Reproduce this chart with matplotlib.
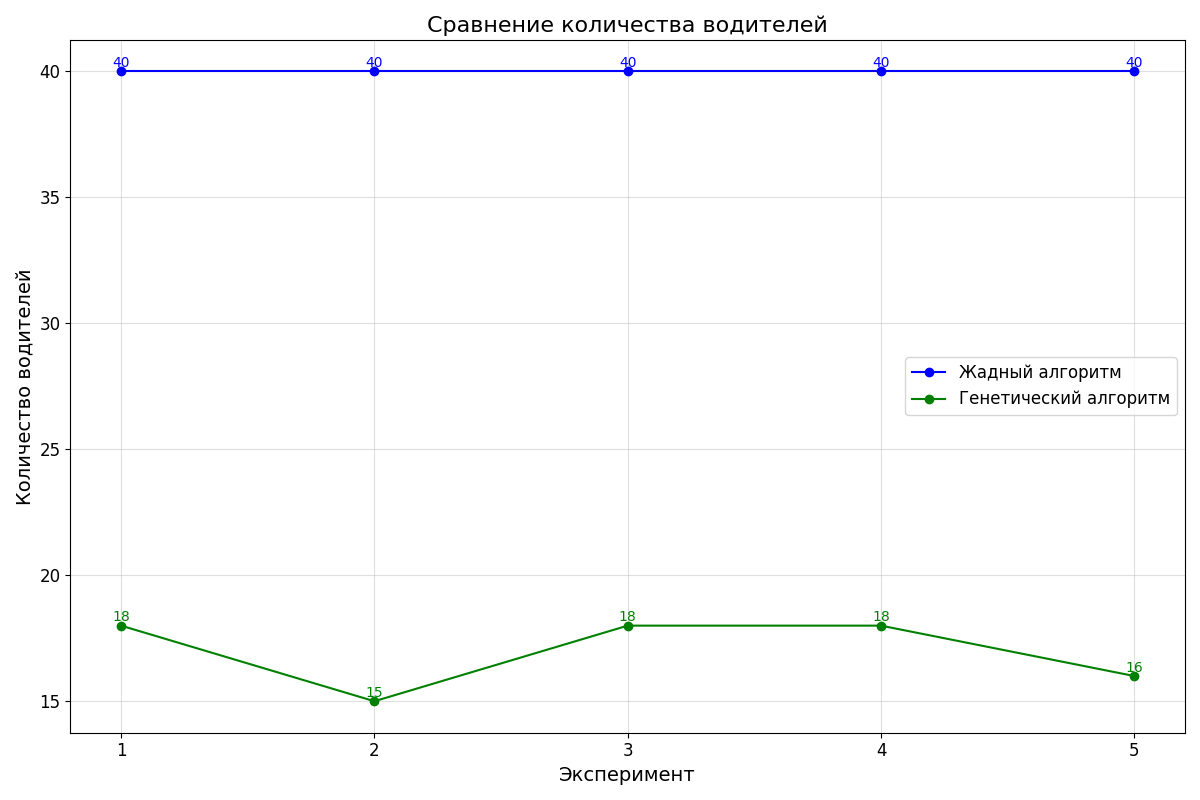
import matplotlib
matplotlib.use("Agg")
import matplotlib.pyplot as plt

experiments = [1, 2, 3, 4, 5]
greedy = [40, 40, 40, 40, 40]
genetic = [18, 15, 18, 18, 16]

fig, ax = plt.subplots(figsize=(12, 8), dpi=100)
ax.plot(experiments, greedy, marker='o', color='blue', label='Жадный алгоритм')
ax.plot(experiments, genetic, marker='o', color='green', label='Генетический алгоритм')
for x, y in zip(experiments, greedy):
    ax.annotate(str(y), (x, y), textcoords='offset points', xytext=(0, 3), ha='center', color='blue', fontsize=10)
for x, y in zip(experiments, genetic):
    ax.annotate(str(y), (x, y), textcoords='offset points', xytext=(0, 3), ha='center', color='green', fontsize=10)
ax.set_title('Сравнение количества водителей', fontsize=16)
ax.set_xlabel('Эксперимент', fontsize=14)
ax.set_ylabel('Количество водителей', fontsize=14)
ax.set_xticks(experiments)
ax.tick_params(labelsize=12)
ax.grid(True, alpha=0.4)
ax.legend(fontsize=12, loc='center right')
fig.tight_layout()
fig.savefig('out.png')
